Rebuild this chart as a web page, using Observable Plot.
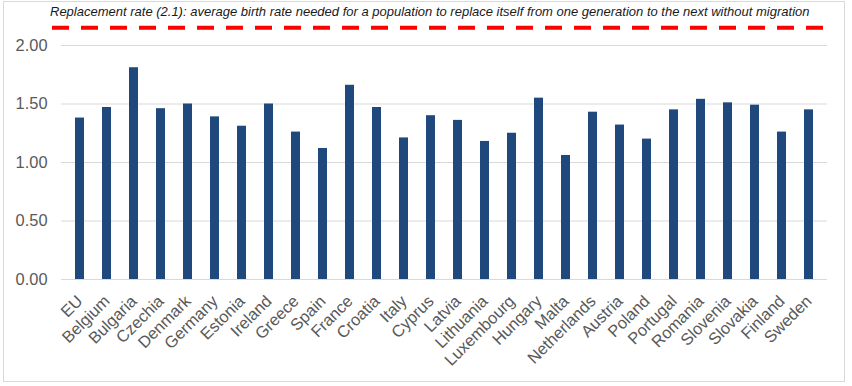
<!DOCTYPE html>
<html>
<head>
<meta charset="utf-8">
<script src="https://cdn.jsdelivr.net/npm/d3@7"></script>
<script src="https://cdn.jsdelivr.net/npm/@observablehq/plot@0.6"></script>
<style>
  html, body { margin: 0; padding: 0; background: #ffffff; }
  #wrap { position: relative; width: 852px; height: 386px; overflow: hidden; font-family: "Liberation Sans", Arial, sans-serif; }
  #frame { position: absolute; left: 3px; top: 1px; width: 842px; height: 381px; border: 1px solid #d9d9d9; box-sizing: border-box; }
  #title { position: absolute; left: 50px; top: 4px; font-style: italic; font-size: 13px; color: #1a1a1a; white-space: nowrap; }
  #chart { position: absolute; left: 0; top: 0; }
</style>
</head>
<body>
<div id="wrap">
  <div id="frame"></div>
  <div id="chart"></div>
  <div id="title">Replacement rate (2.1): average birth rate needed for a population to replace itself from one generation to the next without migration</div>
</div>
<script>
const countries = ["EU","Belgium","Bulgaria","Czechia","Denmark","Germany","Estonia","Ireland","Greece","Spain","France","Croatia","Italy","Cyprus","Latvia","Lithuania","Luxembourg","Hungary","Malta","Netherlands","Austria","Poland","Portugal","Romania","Slovenia","Slovakia","Finland","Sweden"];
const fertility = [1.38,1.47,1.81,1.46,1.50,1.39,1.31,1.50,1.26,1.12,1.66,1.47,1.21,1.40,1.36,1.18,1.25,1.55,1.06,1.43,1.32,1.20,1.45,1.54,1.51,1.49,1.26,1.45];
const yTicks = [0, 0.5, 1.0, 1.5, 2.0];
const replacementRate = 2.1;

const data = countries.map((c, i) => ({country: c, value: fertility[i]}));

const chart = Plot.plot({
  width: 852,
  height: 386,
  marginLeft: 61,
  marginRight: 25,
  marginTop: 45,
  marginBottom: 107,
  style: {fontFamily: "'Liberation Sans', Arial, sans-serif", fontSize: "16.4px", color: "#595959", background: "transparent"},
  x: {domain: countries, paddingInner: 0.67, paddingOuter: 0.335},
  y: {domain: [0, 2]},
  marks: [
    Plot.gridY(yTicks, {stroke: "#d9d9d9", strokeOpacity: 1, strokeWidth: 1}),
    Plot.axisY(yTicks, {tickSize: 0, tickPadding: 14, tickFormat: d => d.toFixed(2), label: null, fill: "#595959"}),
    Plot.axisX({tickSize: 0, tickRotate: -45, tickPadding: 19, dx: 0, label: null, fill: "#595959"}),
    Plot.barY(data, {x: "country", y: "value", fill: "#1f497d"}),
    Plot.ruleY([replacementRate], {stroke: "#ff0000", strokeWidth: 4, strokeDasharray: "17,12", dy: -6, insetLeft: -9, insetRight: -4})
  ]
});
document.getElementById("chart").appendChild(chart);
</script>
</body>
</html>
